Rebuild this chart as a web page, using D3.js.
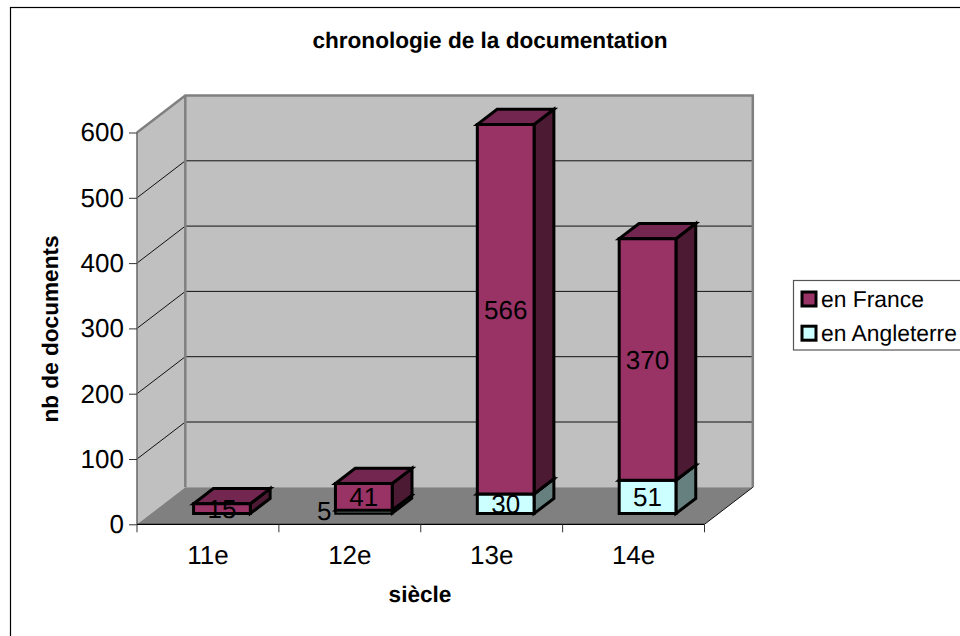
<!DOCTYPE html>
<html><head><meta charset="utf-8">
<style>html,body{margin:0;padding:0;background:#fff}svg{display:block}text{font-family:"Liberation Sans",Arial,sans-serif;fill:#000;text-rendering:geometricPrecision}</style>
<script src="https://cdn.jsdelivr.net/npm/d3@7/dist/d3.min.js"></script>
</head><body><svg id="c" width="960" height="636"></svg>
<script>
const categories = ["11e","12e","13e","14e"];
const enAngleterre = [0,5,30,51];
const enFrance = [15,41,566,370];
const yTicks = [0,100,200,300,400,500,600];
const seriesNames = ["en France","en Angleterre"];
const chartTitle = "chronologie de la documentation";
const xTitle = "siècle";
const yTitle = "nb de documents";

const svg = d3.select("#c");
const x = d3.scaleBand().domain(categories).range([137,704.5]).paddingInner(0.6).paddingOuter(0.3);
const y = d3.scaleLinear().domain([0,600]).range([524.3,132.5]);
const dx = d3.scaleLinear().domain([0,1]).range([0,48.3]);
const dy = d3.scaleLinear().domain([0,1]).range([0,-37]);
const P = (px,py,d)=>[px+dx(d),py+dy(d)];
const poly = (g,pts,fill,stroke,sw)=>g.append("polygon").attr("points",pts.map(p=>p.join(",")).join(" "))
  .attr("fill",fill).attr("stroke",stroke).attr("stroke-width",sw).attr("stroke-linejoin","miter");

svg.append("rect").attr("x",10.5).attr("y",7.5).attr("width",1000).attr("height",700).attr("fill","#fff").attr("stroke","#000").attr("stroke-width",1.2);

const xL=x.range()[0], xR=x.range()[1], y0=y(0), yT=y(600);
const g = svg.append("g");
poly(g,[P(xL,y0,0),P(xL,yT,0),P(xL,yT,1),P(xL,y0,1)],"#c0c0c0","none",0);
poly(g,[P(xL,y0,1),P(xL,yT,1),P(xR,yT,1),P(xR,y0,1)],"#c0c0c0","none",0);
poly(g,[P(xL,y0,0),P(xL,y0,1),P(xR,y0,1),P(xR,y0,0)],"#808080","none",0);
yTicks.filter(t=>t>0&&t<600).forEach(t=>{
  const path=d3.line()([P(xL,y(t),0),P(xL,y(t),1),P(xR,y(t),1)]);
  g.append("path").attr("d",path).attr("fill","none").attr("stroke","#111").attr("stroke-width",1);
});
const wall=d3.line();
g.append("path").attr("d",wall([P(xL,yT,0),P(xL,yT,1),P(xR,yT,1),P(xR,y0,1)])).attr("fill","none").attr("stroke","#808080").attr("stroke-width",2.5);
g.append("path").attr("d",wall([P(xL,yT,1),P(xL,y0,1)])).attr("fill","none").attr("stroke","#808080").attr("stroke-width",2.5);
g.append("path").attr("d",wall([P(xL,y0,0),P(xL,yT,0)])).attr("fill","none").attr("stroke","#666").attr("stroke-width",1.5);
g.append("path").attr("d",wall([P(xR,y0,0),P(xR,y0,1)])).attr("fill","none").attr("stroke","#111").attr("stroke-width",1);

const ya=svg.append("g").attr("transform",`translate(${xL},0)`).call(d3.axisLeft(y).tickValues(yTicks).tickSize(8));
ya.select(".domain").remove();
ya.selectAll("line").attr("stroke","#333").attr("stroke-width",1);
ya.selectAll("text").attr("font-size",26).attr("fill","#000").attr("x",-13);

const xa=svg.append("g").attr("transform",`translate(0,${y0})`)
  .call(d3.axisBottom(x).tickSize(0).tickPadding(21));
xa.select(".domain").remove();
xa.selectAll("text").attr("font-size",26).attr("fill","#000");
svg.append("line").attr("x1",xL).attr("x2",xR).attr("y1",y0).attr("y2",y0).attr("stroke","#000").attr("stroke-width",1.2);
[...categories.map(c=>x(c)-x.step()*x.paddingInner()/2),xR].forEach((v,i)=>
  svg.append("line").attr("x1",i?v:xL).attr("x2",i?v:xL).attr("y1",y0).attr("y2",y0+8).attr("stroke","#333").attr("stroke-width",1));

const frontC={F:"#993366",A:"#ccffff"}, topC={F:"#732650",A:"#99bfbf"}, sideC={F:"#4d1a33",A:"#668080"};
const d0=0.29, d1=0.70, labels=svg.append("g");
categories.forEach((c,i)=>{
  const segs=[["A",0,enAngleterre[i]],["F",enAngleterre[i],enAngleterre[i]+enFrance[i]]];
  const l=x(c)+dx(d0), r=l+x.bandwidth();
  segs.forEach(([k,a,b])=>{
    if(b<=a) return;
    const bot=y(a)+dy(d0), top=y(b)+dy(d0), D=dx(d1-d0), E=dy(d1-d0);
    const small=(b-a)<=5, sw=small?2.4:3;
    const G=svg.append("g");
    poly(G,[[r,bot],[r,top],[r+D,top+E],[r+D,bot+E]],sideC[k],"#000",sw);
    poly(G,[[l,top],[r,top],[r+D,top+E],[l+D,top+E]],topC[k],"#000",sw);
    poly(G,[[l,bot],[r,bot],[r,top],[l,top]],frontC[k],"#000",sw);
    labels.append("text").attr("x",small?l-4:(l+r)/2).attr("y",(top+bot)/2-(small?1:0))
      .attr("text-anchor",small?"end":"middle").attr("dy","0.36em").attr("font-size",26).text(b-a);
  });
});
labels.raise();

svg.append("text").attr("x",490).attr("y",47.5).attr("text-anchor","middle").attr("font-size",22.6).attr("font-weight","bold").text(chartTitle);
svg.append("text").attr("x",420).attr("y",601.5).attr("text-anchor","middle").attr("font-size",22.6).attr("font-weight","bold").text(xTitle);
svg.append("text").attr("transform","translate(58,329) rotate(-90)").attr("text-anchor","middle").attr("font-size",22.6).attr("font-weight","bold").text(yTitle);

svg.append("rect").attr("x",793.5).attr("y",280.5).attr("width",200).attr("height",69.5).attr("fill","#fff").attr("stroke","#555").attr("stroke-width",1.2);
seriesNames.forEach((n,i)=>{
  const yy=292+34.2*i;
  svg.append("rect").attr("x",802).attr("y",yy).attr("width",14).attr("height",14)
    .attr("fill",i?frontC.A:frontC.F).attr("stroke","#000").attr("stroke-width",3);
  svg.append("text").attr("x",821).attr("y",yy+15).attr("font-size",22.85).text(n);
});
</script></body></html>
